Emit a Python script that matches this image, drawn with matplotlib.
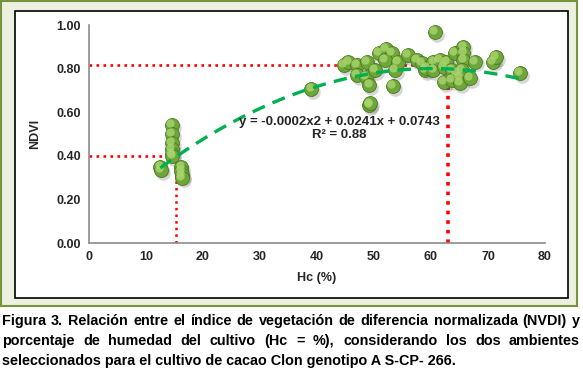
import matplotlib
matplotlib.use("Agg")
import matplotlib.pyplot as plt
import numpy as np
from matplotlib.patches import Rectangle

plt.rcParams['font.family'] = ['Liberation Sans', 'DejaVu Sans']

# humedad del cultivo (Hc %) y NDVI
hc = [12.5, 12.6, 14.5, 14.5, 14.5, 14.5, 14.5, 14.6,
      16.2, 16.2, 16.3, 16.3,
      39.0, 44.7, 45.5, 47.0, 48.7, 47.0, 48.6, 49.2, 49.2, 49.3,
      50.2, 50.8, 52.1, 53.1, 51.9, 53.7, 53.3, 54.2, 56.0, 57.5,
      58.4, 58.9, 59.2, 60.4, 60.4, 60.7, 61.6, 62.2, 62.7, 62.2,
      63.6, 63.6, 64.2, 64.5, 65.7, 65.7, 65.7, 65.4, 65.1, 65.1,
      66.8, 67.7, 70.9, 71.4, 75.6]
ndvi = [0.35, 0.335, 0.54, 0.50, 0.46, 0.43, 0.41, 0.40,
        0.35, 0.33, 0.31, 0.30,
        0.707, 0.817, 0.832, 0.817, 0.832, 0.771, 0.763, 0.725, 0.633, 0.64,
        0.794, 0.870, 0.889, 0.870, 0.839, 0.794, 0.720, 0.832, 0.862, 0.839,
        0.824, 0.794, 0.801, 0.832, 0.794, 0.967, 0.839, 0.809, 0.832, 0.740,
        0.794, 0.748, 0.870, 0.778, 0.901, 0.870, 0.839, 0.794, 0.763, 0.733,
        0.756, 0.832, 0.832, 0.852, 0.778]

# trend line coefficients shown on the chart
coef = [-0.0002, 0.0241, 0.0743]
trend_x = [12.5, 76]

# reference lines (Hc, NDVI)
ref1 = (15.3, 0.40)
ref2 = (63.0, 0.815)

caption = [
    "Figura 3. Relación entre el índice de vegetación de diferencia normalizada (NVDI) y",
    "porcentaje de humedad del cultivo (Hc = %), considerando los dos ambientes",
    "seleccionados para el cultivo de cacao Clon genotipo A S-CP- 266.",
]

W, H = 583, 385
fig = plt.figure(figsize=(W / 100, H / 100), dpi=100)

# frames
fig.patches.append(Rectangle((1 / W, 1 - 306 / H), 576 / W, 305 / H, transform=fig.transFigure,
                             facecolor='#ebf1de', edgecolor='#77933c', lw=1.5, zorder=-2))
fig.patches.append(Rectangle((15 / W, 1 - 298 / H), 553 / W, 287 / H, transform=fig.transFigure,
                             facecolor='white', edgecolor='black', lw=1.2, zorder=-1))

ax = fig.add_axes([89 / W, 1 - 243 / H, 456 / W, 218 / H])
ax.set_zorder(2)
ax.patch.set_alpha(0)
ax.set_xlim(0, 80)
ax.set_ylim(0, 1)
ax.set_xticks(range(0, 81, 10))
ax.set_yticks(np.arange(0, 1.01, 0.2))
ax.set_yticklabels([f"{v:.2f}" for v in np.arange(0, 1.01, 0.2)])
for s in ['top', 'right']:
    ax.spines[s].set_visible(False)
for s in ['left', 'bottom']:
    ax.spines[s].set_color('#8c8c8c')
    ax.spines[s].set_linewidth(1.2)
ax.tick_params(length=0, labelsize=9, colors='#262626', pad=6)
for lab in ax.get_xticklabels() + ax.get_yticklabels():
    lab.set_fontweight('bold')
ax.set_xlabel("Hc (%)", fontsize=9, fontweight='bold', color='#262626', labelpad=6)
ax.set_ylabel("NDVI", fontsize=9, fontweight='bold', color='#262626', labelpad=11)

# red dotted guides
for (xv, yv), lw in [(ref1, 1.8), (ref2, 2.6)]:
    ax.plot([0, xv], [yv, yv], ls=':', color='#ff0000', lw=1.9, zorder=2)
    ax.plot([xv, xv], [0, yv], ls=':', color='#ff0000', lw=lw, zorder=2)

# spheres: shadow, body, highlight
hc_a = np.array(hc)
nd_a = np.array(ndvi)
ax.scatter(hc_a + 0.35, nd_a - 0.013, s=110, color='#000000', alpha=0.16, lw=0, zorder=3)
ax.scatter(hc_a, nd_a, s=100, color='#6ea63a', edgecolor='#4a7a20', lw=0.6, zorder=4)
ax.scatter(hc_a - 0.3, nd_a + 0.009, s=35, color='#a9d46e', lw=0, alpha=0.8, zorder=5)

# trend line
tx = np.linspace(trend_x[0], trend_x[1], 200)
ax.plot(tx, np.polyval(coef, tx), ls=(0, (4, 2.5)), color='#00b050', lw=2.4, zorder=6)

ax.text(43.9, 0.553, "y = -0.0002x2 + 0.0241x + 0.0743", ha='center', va='center',
        fontsize=9.5, fontweight='bold', color='#262626', zorder=7)
ax.text(43.9, 0.495, "R² = 0.88", ha='center', va='center',
        fontsize=9.5, fontweight='bold', color='#262626', zorder=7)

# caption, first two lines justified
fig.canvas.draw()
r = fig.canvas.get_renderer()
left, right = 2, 580
ys = [321, 341, 361]
fs = 10.4
for i, line in enumerate(caption):
    y = 1 - ys[i] / H
    if i == 2:
        fig.text(left / W, y, line, fontsize=fs, fontweight='bold', va='center', ha='left')
        continue
    words = line.split()
    texts = [fig.text(0, y, w, fontsize=fs, fontweight='bold', va='center', ha='left') for w in words]
    widths = [t.get_window_extent(r).width for t in texts]
    gap = (right - left - sum(widths)) / (len(words) - 1)
    x = left
    for t, w in zip(texts, widths):
        t.set_x(x / W)
        x += w + gap

fig.savefig("out.png", dpi=100)
